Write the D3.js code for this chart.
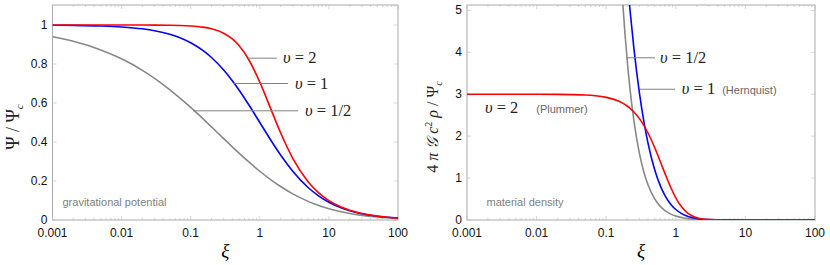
<!DOCTYPE html>
<html>
<head>
<meta charset="utf-8">
<script src="https://cdn.jsdelivr.net/npm/d3@7"></script>
<style>
  body { margin: 0; background: #fff; }
  svg { display: block; }
</style>
</head>
<body>
<div id="chart"></div>
<script>
// xi grid for the potential curves
var xi = [0.001, 0.002, 0.005, 0.01, 0.02, 0.03, 0.05, 0.07, 0.1, 0.15, 0.2, 0.3, 0.4, 0.5, 0.7,
  1, 1.5, 2, 3, 5, 7, 10, 15, 20, 30, 50, 70, 100];

var psiHalf = [0.9396, 0.9162, 0.8723, 0.8265, 0.7676, 0.7265, 0.6679, 0.6253, 0.5772, 0.5196, 0.4775,
  0.4175, 0.3753, 0.3432, 0.2964, 0.25, 0.2020, 0.1716, 0.1340, 0.0955, 0.0752, 0.0577, 0.0421,
  0.0334, 0.0238, 0.0154, 0.0114, 0.0083];
var psiOne = [0.999, 0.998, 0.995, 0.9901, 0.9804, 0.9709, 0.9524, 0.9346, 0.9091, 0.8696, 0.8333,
  0.7692, 0.7143, 0.6667, 0.5882, 0.5, 0.4, 0.3333, 0.25, 0.1667, 0.125, 0.0909, 0.0625, 0.0476,
  0.0323, 0.0196, 0.0141, 0.0099];
var psiTwo = [1, 1, 1, 0.99995, 0.9998, 0.99955, 0.99875, 0.99756, 0.99504, 0.98893, 0.98058,
  0.95783, 0.92848, 0.89443, 0.81923, 0.70711, 0.5547, 0.44721, 0.31623, 0.19612, 0.14142,
  0.0995, 0.06652, 0.04994, 0.03332, 0.02, 0.01428, 0.01];

// xi grid for the density curves
var xiRho = [0.001, 0.002, 0.005, 0.01, 0.02, 0.05, 0.07, 0.1, 0.15, 0.17, 0.2, 0.22, 0.25, 0.3,
  0.35, 0.4, 0.5, 0.6, 0.7, 0.85, 1, 1.25, 1.5, 2, 3, 5, 10, 20, 50, 100];

var rhoHalf = [null, null, null, null, null, null, 31.67, 15.81, 6.971, 5.379, 3.823, 3.121, 2.370,
  1.591, 1.129, 0.835, 0.4996, 0.3254, 0.2251, 0.1403, 0.0938, 0.0533, 0.0333, 0.0156, 0.0052,
  0.0012, 0.0002, 0, 0, 0];
var rhoOne = [null, null, null, null, null, null, 21.2, 15.03, 8.767, 7.346, 5.787, 5.006, 4.096,
  3.034, 2.323, 1.822, 1.185, 0.8138, 0.5816, 0.3716, 0.25, 0.1405, 0.0853, 0.0370, 0.0104,
  0.0019, 0.0002, 0, 0, 0];
var rhoTwo = [3, 3, 3, 2.9993, 2.997, 2.9813, 2.9636, 2.9263, 2.8377, 2.7938, 2.7198, 2.6656, 2.5781,
  2.4185, 2.2474, 2.07, 1.7173, 1.3909, 1.107, 0.7704, 0.5303, 0.2854, 0.1576, 0.0537, 0.0095,
  0.0009, 0, 0, 0, 0];

var xTicks = [0.001, 0.01, 0.1, 1, 10, 100];
var xTickLabels = ["0.001", "0.01", "0.1", "1", "10", "100"];
var psiTicks = [0, 0.2, 0.4, 0.6, 0.8, 1];
var psiTickLabels = ["0", "0.2", "0.4", "0.6", "0.8", "1"];
var rhoTicks = [0, 1, 2, 3, 4, 5];
var rhoTickLabels = ["0", "1", "2", "3", "4", "5"];

var colors = {half: "#888888", one: "#0000ff", two: "#ff0000"};

var W = 830, H = 265;
var svg = d3.select("#chart").append("svg").attr("width", W).attr("height", H);

var serif = "'Liberation Serif', 'DejaVu Serif', serif";
var sans = "'Liberation Sans', Arial, sans-serif";

function panel(opt) {
  var x = d3.scaleLog().domain([0.001, 100]).range([opt.left, opt.right]);
  var y = d3.scaleLinear().domain(opt.ydom).range([220, 5]);
  var g = svg.append("g");

  var clipId = "clip" + opt.id;
  svg.append("clipPath").attr("id", clipId).append("rect")
    .attr("x", opt.left).attr("y", 5).attr("width", opt.right - opt.left).attr("height", 215);

  // frame
  g.append("rect")
    .attr("x", opt.left).attr("y", 5)
    .attr("width", opt.right - opt.left).attr("height", 215)
    .attr("fill", "none").attr("stroke", "#aaaaaa").attr("stroke-width", 1);

  // minor/major ticks on bottom & top
  var minor = [];
  for (var e = -3; e < 2; e++) {
    for (var k = 1; k < 10; k++) minor.push(k * Math.pow(10, e));
  }
  minor.push(100);
  minor.forEach(function(v) {
    var major = Math.abs(Math.log10(v) - Math.round(Math.log10(v))) < 1e-9;
    var len = major ? 4 : 2;
    g.append("line").attr("x1", x(v)).attr("x2", x(v)).attr("y1", 220).attr("y2", 220 - len)
      .attr("stroke", "#bbbbbb").attr("stroke-width", 0.6);
    g.append("line").attr("x1", x(v)).attr("x2", x(v)).attr("y1", 5).attr("y2", 5 + len)
      .attr("stroke", "#bbbbbb").attr("stroke-width", 0.6);
  });
  opt.yticks.forEach(function(v) {
    g.append("line").attr("x1", opt.left).attr("x2", opt.left + 4).attr("y1", y(v)).attr("y2", y(v))
      .attr("stroke", "#bbbbbb").attr("stroke-width", 0.6);
    g.append("line").attr("x1", opt.right).attr("x2", opt.right - 4).attr("y1", y(v)).attr("y2", y(v))
      .attr("stroke", "#bbbbbb").attr("stroke-width", 0.6);
  });

  // tick labels
  g.selectAll(".xl").data(xTicks).enter().append("text")
    .attr("x", function(d) { return x(d); })
    .attr("y", 237)
    .attr("text-anchor", "middle")
    .style("font-family", sans).style("font-size", "12px").attr("fill", "#111")
    .text(function(d, i) { return xTickLabels[i]; });
  g.selectAll(".yl").data(opt.yticks).enter().append("text")
    .attr("x", opt.left - 5)
    .attr("y", function(d) { return y(d) + 4; })
    .attr("text-anchor", "end")
    .style("font-family", sans).style("font-size", "12px").attr("fill", "#111")
    .text(function(d, i) { return opt.ylabels[i]; });

  // xi axis title
  g.append("text")
    .attr("x", (opt.left + opt.right) / 2).attr("y", 257)
    .attr("text-anchor", "middle")
    .style("font-family", serif).style("font-style", "italic").style("font-size", "19px")
    .text("ξ");

  // curves
  var line = d3.line()
    .defined(function(d) { return d[1] != null; })
    .x(function(d) { return x(d[0]); })
    .y(function(d) { return y(d[1]); })
    .curve(d3.curveMonotoneX);

  var cg = g.append("g").attr("clip-path", "url(#" + clipId + ")");
  opt.series.forEach(function(s) {
    cg.append("path")
      .datum(opt.xs.map(function(v, i) { return [v, s.values[i]]; }))
      .attr("d", line)
      .attr("fill", "none")
      .attr("stroke", s.color)
      .attr("stroke-width", 1.6);
  });

  return {x: x, y: y, g: g};
}

// math label helper: "υ = n"
function mathLabel(g, px, py, rest) {
  var t = g.append("text").attr("x", px).attr("y", py)
    .style("font-family", serif).style("font-size", "16.5px").attr("fill", "#222");
  t.append("tspan").style("font-style", "italic").text("υ");
  t.append("tspan").text(" = " + rest);
  return t;
}

function leader(g, x1, x2, yy) {
  g.append("line").attr("x1", x1).attr("x2", x2).attr("y1", yy).attr("y2", yy)
    .attr("stroke", "#808080").attr("stroke-width", 1);
}

// ---- left: gravitational potential
var L = panel({
  id: "L", left: 52.5, right: 398, ydom: [0, 1.1026],
  yticks: psiTicks, ylabels: psiTickLabels, xs: xi,
  series: [
    {values: psiHalf, color: colors.half},
    {values: psiOne, color: colors.one},
    {values: psiTwo, color: colors.two}
  ]
});

leader(L.g, L.x(0.675), L.x(1.77), L.y(0.83));
mathLabel(L.g, L.x(2.17), L.y(0.83) + 5, "2");
leader(L.g, L.x(0.41), L.x(2.56), L.y(0.70));
mathLabel(L.g, L.x(3.23), L.y(0.70) + 5, "1");
leader(L.g, L.x(0.108), L.x(3.57), L.y(0.56));
mathLabel(L.g, L.x(4.51), L.y(0.56) + 5, "1/2");

L.g.append("text").attr("x", 62.5).attr("y", 206)
  .style("font-family", sans).style("font-size", "11px").attr("fill", "#808080")
  .text("gravitational potential");

var yl = L.g.append("text")
  .attr("transform", "translate(19,127) rotate(-90)")
  .attr("text-anchor", "middle")
  .style("font-family", serif).style("font-size", "18px").attr("fill", "#222");
yl.append("tspan").text("Ψ / Ψ");
yl.append("tspan").attr("dy", 4).style("font-size", "11px").style("font-style", "italic").text("c");

// ---- right: material density
var R = panel({
  id: "R", left: 467, right: 815, ydom: [0, 5.13],
  yticks: rhoTicks, ylabels: rhoTickLabels, xs: xiRho,
  series: [
    {values: rhoHalf, color: colors.half},
    {values: rhoOne, color: colors.one},
    {values: rhoTwo, color: colors.two}
  ]
});

leader(R.g, R.x(0.197), R.x(0.503), R.y(3.87));
mathLabel(R.g, R.x(0.593), R.y(3.87) + 5, "1/2");
leader(R.g, R.x(0.306), R.x(0.974), R.y(3.12));
var h = mathLabel(R.g, R.x(1.22), R.y(3.12) + 5, "1");
h.append("tspan").attr("dx", 7).style("font-family", sans).style("font-size", "11px")
  .attr("fill", "#666").text("(Hernquist)");
var p = mathLabel(R.g, R.x(0.00181), R.y(2.67) + 5, "2");
p.append("tspan").attr("dx", 18).style("font-family", sans).style("font-size", "11px")
  .attr("fill", "#666").text("(Plummer)");

R.g.append("text").attr("x", 486.5).attr("y", 206)
  .style("font-family", sans).style("font-size", "11px").attr("fill", "#808080")
  .text("material density");

var yr = R.g.append("text")
  .attr("transform", "translate(438,127) rotate(-90)")
  .attr("text-anchor", "middle")
  .style("font-family", serif).style("font-size", "16px").attr("fill", "#222");
yr.append("tspan").text("4 ");
yr.append("tspan").style("font-style", "italic").text("π 𝒢 c");
yr.append("tspan").attr("dy", -6).style("font-size", "10px").text("2");
yr.append("tspan").attr("dy", 6).style("font-style", "italic").text(" ρ");
yr.append("tspan").text(" / Ψ");
yr.append("tspan").attr("dy", 4).style("font-size", "10px").style("font-style", "italic").text("c");
</script>
</body>
</html>
